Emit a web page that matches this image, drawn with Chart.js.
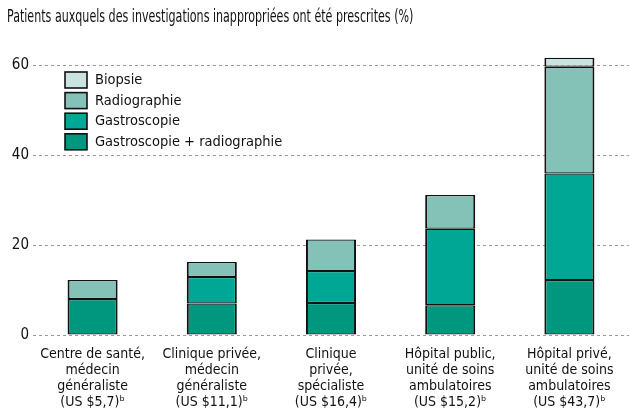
<!DOCTYPE html>
<html>
<head>
<meta charset="utf-8">
<script src="https://cdn.jsdelivr.net/npm/chart.js@4/dist/chart.umd.min.js"></script>
<style>
  html, body { margin: 0; padding: 0; background: #fff; }
  #wrap { width: 629px; height: 412px; position: relative; }
  #titre {
    position: absolute; left: 7px; top: 6px;
    font-family: 'DejaVu Sans Condensed', 'DejaVu Sans', sans-serif;
    font-size: 17.5px; line-height: 20px; color: #111;
    white-space: nowrap;
    transform: scaleX(0.705); transform-origin: left top;
  }
</style>
</head>
<body>
<div id="wrap">
  <div id="titre"></div>
  <canvas id="chart"></canvas>
</div>
<script>
const FONT = "'DejaVu Sans Condensed', 'DejaVu Sans', sans-serif";

// catégories (axe x)
const categories = [
    ['Centre de santé,', 'médecin', 'généraliste', '(US $5,7)ᵇ'],
    ['Clinique privée,', 'médecin', 'généraliste', '(US $11,1)ᵇ'],
    ['Clinique', 'privée,', 'spécialiste', '(US $16,4)ᵇ'],
    ['Hôpital public,', 'unité de soins', 'ambulatoires', '(US $15,2)ᵇ'],
    ['Hôpital privé,', 'unité de soins', 'ambulatoires', '(US $43,7)ᵇ']
];

// séries (%), du bas vers le haut de la pile
const gastroRadio  = [8.0, 7.0, 7.1, 6.6, 12.2];
const gastroscopie = [null, 5.9, 7.1, 17.0, 23.7];
const radiographie = [4.2, 3.3, 7.0, 7.5, 23.7];
const biopsie      = [null, null, null, null, 2.0];

const yTicks = [0, 20, 40, 60];

const titleText = 'Patients auxquels des investigations inappropriées ont été prescrites (%)';
document.getElementById('titre').textContent = titleText;

// légende dessinée dans la zone du graphique
const insideLegend = {
    id: 'insideLegend',
    afterDraw(chart) {
        const ctx = chart.ctx;
        const area = chart.chartArea;
        const items = chart.data.datasets.slice().reverse();
        ctx.save();
        ctx.font = '14.5px ' + FONT;
        ctx.textBaseline = 'middle';
        items.forEach((ds, i) => {
            const x = area.left + 32;
            const y = area.top + 25 + i * 20.6;
            ctx.fillStyle = ds.backgroundColor;
            ctx.fillRect(x, y, 22, 16);
            ctx.strokeStyle = '#111';
            ctx.lineWidth = 1.6;
            ctx.strokeRect(x, y, 22, 16);
            ctx.fillStyle = '#111';
            ctx.fillText(ds.label, x + 30, y + 8.5);
        });
        ctx.restore();
    }
};

const ds = (label, data, color) => ({
    label: label,
    data: data,
    backgroundColor: color,
    borderColor: '#111',
    borderWidth: { top: 1.2, bottom: 1.2, left: 2, right: 2 },
    borderSkipped: false,
    categoryPercentage: 1,
    barPercentage: 0.42
});

new Chart(document.getElementById('chart'), {
    type: 'bar',
    data: {
        labels: categories,
        datasets: [
            ds('Gastroscopie + radiographie', gastroRadio, '#00977f'),
            ds('Gastroscopie', gastroscopie, '#00a794'),
            ds('Radiographie', radiographie, '#84c1b6'),
            ds('Biopsie', biopsie, '#c9e4de')
        ]
    },
    plugins: [insideLegend],
    options: {
        responsive: true,
        maintainAspectRatio: false,
        animation: false,
        layout: { padding: { left: 0, right: 0, top: 47, bottom: 0 } },
        plugins: {
            legend: { display: false },
            tooltip: { enabled: false },
            title: { display: false }
        },
        scales: {
            x: {
                stacked: true,
                grid: { display: false, drawTicks: false },
                border: { display: false },
                ticks: {
                    color: '#111',
                    font: { family: FONT, size: 14, lineHeight: 1.14 },
                    padding: 11,
                    maxRotation: 0,
                    autoSkip: false
                },
                afterFit: axis => { axis.height = 77; }
            },
            y: {
                stacked: true,
                min: 0,
                max: 64,
                afterBuildTicks: axis => { axis.ticks = yTicks.map(v => ({ value: v })); },
                afterFit: axis => { axis.width = 33; },
                border: { display: false, dash: [3, 3] },
                grid: {
                    color: '#999',
                    lineWidth: 1,
                    drawTicks: false
                },
                ticks: {
                    color: '#111',
                    font: { family: FONT, size: 15 },
                    padding: 4
                }
            }
        }
    }
});
</script>
</body>
</html>
